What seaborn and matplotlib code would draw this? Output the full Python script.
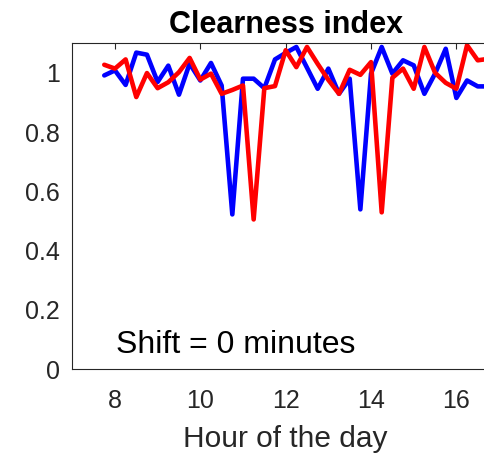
import numpy as np
import pandas as pd
import matplotlib
matplotlib.use("Agg")
import matplotlib.pyplot as plt
import seaborn as sns

# hour of the day (15 min steps)
hours = [7.75, 8.0, 8.25, 8.5, 8.75, 9.0, 9.25, 9.5, 9.75, 10.0, 10.25, 10.5,
         10.75, 11.0, 11.25, 11.5, 11.75, 12.0, 12.25, 12.5, 12.75, 13.0, 13.25,
         13.5, 13.75, 14.0, 14.25, 14.5, 14.75, 15.0, 15.25, 15.5, 15.75, 16.0,
         16.25, 16.5, 16.75]

# clearness index, blue series
kt_blue = [0.991, 1.008, 0.959, 1.068, 1.061, 0.969, 1.024, 0.926, 1.031, 0.974,
           1.033, 0.957, 0.522, 0.980, 0.980, 0.948, 1.045, 1.067, 1.087, 1.017,
           0.946, 1.014, 0.929, 0.980, 0.539, 0.997, 1.087, 0.997, 1.042, 1.025,
           0.929, 0.997, 1.081, 0.915, 0.974, 0.954, 0.954]

# clearness index, red series
kt_red = [1.027, 1.014, 1.045, 0.918, 0.999, 0.948, 0.968, 1.002, 1.050, 0.977,
          0.997, 0.929, 0.942, 0.957, 0.505, 0.948, 0.955, 1.076, 1.019, 1.087,
          1.030, 0.976, 0.929, 1.010, 0.993, 1.036, 0.529, 0.983, 1.014, 0.946,
          1.087, 1.000, 0.966, 0.946, 1.093, 1.042, 1.047]

x_ticks = [8, 10, 12, 14, 16]
y_ticks = [0, 0.2, 0.4, 0.6, 0.8, 1]

sns.set_style("white")
plt.rcParams['font.family'] = ['Liberation Sans', 'DejaVu Sans']

fig = plt.figure(figsize=(4.85, 4.54), dpi=100)
ax = fig.add_axes([0.149, 0.187, 0.880, 0.718])

sns.lineplot(x=hours, y=kt_blue, ax=ax, color='#0000ff', linewidth=3.3)
sns.lineplot(x=hours, y=kt_red, ax=ax, color='#ff0000', linewidth=3.3)

ax.set_xlim(7, 17)
ax.set_ylim(0, 1.1)
ax.set_xticks(x_ticks)
ax.set_yticks(y_ticks)
ax.set_yticklabels(['0', '0.2', '0.4', '0.6', '0.8', '1'])

for s in ax.spines.values():
    s.set_color('#262626')
    s.set_linewidth(0.8)
ax.tick_params(direction='in', top=True, right=True, length=4, width=0.8,
               color='#262626', labelcolor='#262626', labelsize=18)
ax.tick_params(axis='x', pad=14)
ax.tick_params(axis='y', pad=9)

ax.set_xlabel('Hour of the day', fontsize=21.5, color='#262626', labelpad=9)
ax.set_title('Clearness index', fontsize=22, fontweight='bold', color='black', pad=7)
ax.text(8.03, 0.055, 'Shift = 0 minutes', fontsize=23, color='black', va='baseline')

fig.savefig('out.png', dpi=100)
